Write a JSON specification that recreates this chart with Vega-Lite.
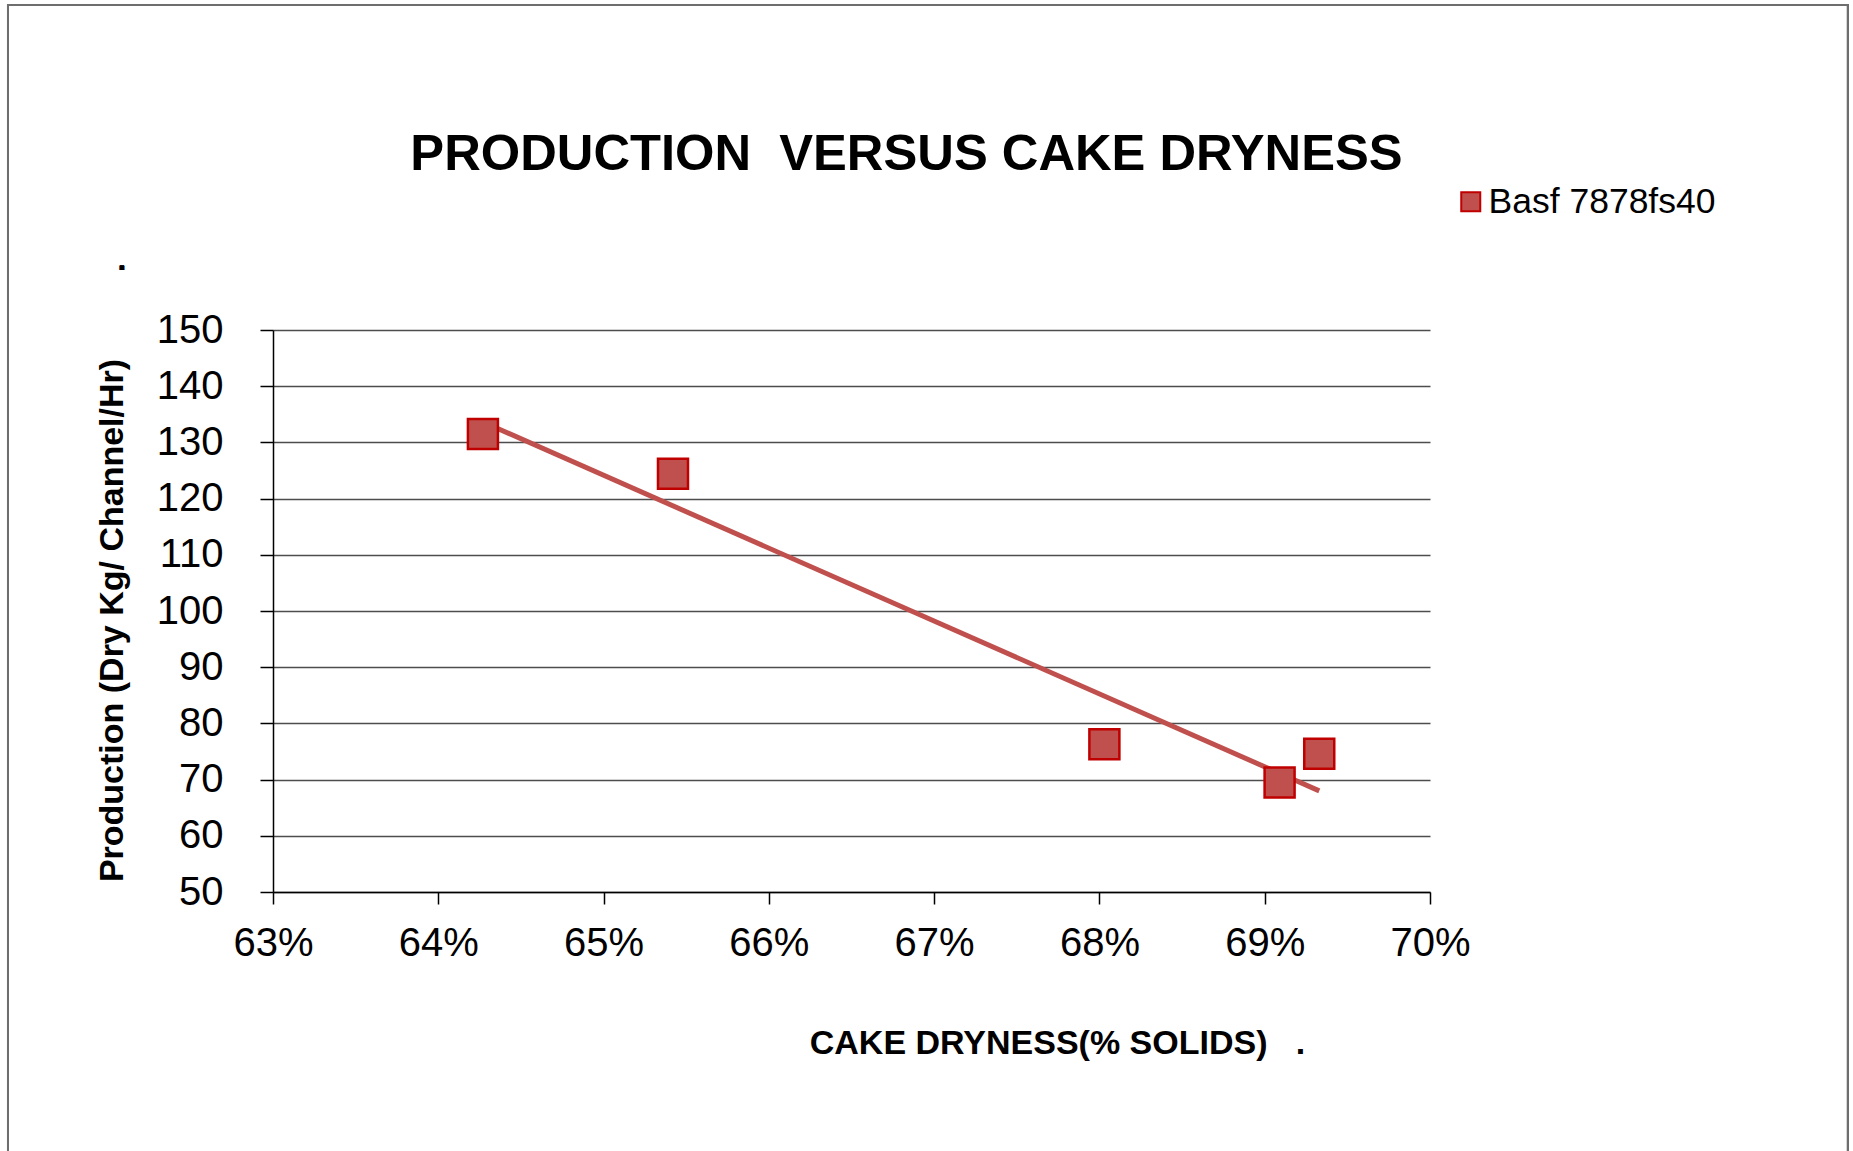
{
  "$schema": "https://vega.github.io/schema/vega-lite/v6.json",
  "autosize": {"type": "none"},
  "width": 1157,
  "height": 562,
  "padding": {"left": 273, "top": 330, "right": 423, "bottom": 259},
  "background": "white",
  "config": {"font": "Liberation Sans", "view": {"stroke": null}},
  "title": {
    "text": "PRODUCTION\u00a0\u00a0VERSUS CAKE DRYNESS",
    "fontSize": 50.7,
    "fontWeight": "bold",
    "color": "black",
    "anchor": "middle",
    "frame": "group",
    "baseline": "alphabetic",
    "dx": 55,
    "dy": 217,
    "offset": 0
  },
  "data": {
    "values": [
      {"dryness": 0.6427, "production": 131.5, "series": "Basf 7878fs40"},
      {"dryness": 0.6542, "production": 124.4, "series": "Basf 7878fs40"},
      {"dryness": 0.6803, "production": 76.3, "series": "Basf 7878fs40"},
      {"dryness": 0.6909, "production": 69.5, "series": "Basf 7878fs40"},
      {"dryness": 0.6933, "production": 74.6, "series": "Basf 7878fs40"}
    ]
  },
  "encoding": {
    "x": {
      "field": "dryness",
      "type": "quantitative",
      "scale": {"domain": [0.63, 0.70], "nice": false, "zero": false},
      "axis": {
        "values": [0.63, 0.64, 0.65, 0.66, 0.67, 0.68, 0.69, 0.70],
        "format": ".0%",
        "grid": false,
        "domainColor": "black",
        "domainWidth": 1.5,
        "tickColor": "black",
        "tickWidth": 1.5,
        "tickSize": 12,
        "labelPadding": 19,
        "labelFontSize": 40,
        "labelColor": "black",
        "labelFlush": false,
        "title": "CAKE DRYNESS(% SOLIDS)\u00a0\u00a0\u00a0.",
        "titleFontSize": 34,
        "titleFontWeight": "bold",
        "titleColor": "black",
        "titleX": 784,
        "titleY": 161,
        "titleAlign": "center",
        "titleBaseline": "alphabetic"
      }
    },
    "y": {
      "field": "production",
      "type": "quantitative",
      "scale": {"domain": [50, 150], "nice": false, "zero": false},
      "axis": {
        "values": [50, 60, 70, 80, 90, 100, 110, 120, 130, 140, 150],
        "grid": true,
        "gridColor": "#4d4d4d",
        "gridWidth": 1.5,
        "domainColor": "black",
        "domainWidth": 1.5,
        "tickColor": "black",
        "tickWidth": 1.5,
        "tickSize": 13,
        "labelPadding": 37,
        "labelFontSize": 40,
        "labelColor": "black",
        "labelFlush": false,
        "title": "Production (Dry Kg/ Channel/Hr)",
        "titleFontSize": 34,
        "titleFontWeight": "bold",
        "titleColor": "black",
        "titlePadding": 27,
        "titleY": 290
      }
    }
  },
  "layer": [
    {
      "mark": {"type": "rect", "filled": false, "stroke": "#6e6e6e", "strokeWidth": 2, "clip": false},
      "encoding": {
        "x": {"datum": 0.613967},
        "x2": {"datum": 0.725286},
        "y": {"datum": 207.83},
        "y2": {"datum": 2.31}
      }
    },
    {
      "mark": {"type": "text", "text": ".", "fontSize": 30, "fontWeight": "bold", "color": "black", "align": "center", "baseline": "alphabetic", "clip": false},
      "encoding": {
        "x": {"datum": 0.62086},
        "y": {"datum": 160.7}
      }
    },
    {
      "transform": [{"regression": "production", "on": "dryness"}],
      "mark": {"type": "line", "color": "#C0504D", "strokeWidth": 5}
    },
    {
      "mark": {"type": "point", "shape": "square", "filled": true, "size": 900, "stroke": "#C00000", "strokeWidth": 2.5, "opacity": 1},
      "encoding": {
        "color": {
          "field": "series",
          "type": "nominal",
          "scale": {"range": ["#C0504D"]},
          "legend": {
            "title": null,
            "orient": "none",
            "legendX": 1180,
            "legendY": -146,
            "padding": 0,
            "labelFontSize": 35.5,
            "labelColor": "black",
            "labelOffset": 0,
            "labelLimit": 500,
            "symbolType": "square",
            "symbolSize": 361,
            "symbolStrokeColor": "#C00000",
            "symbolStrokeWidth": 2,
            "symbolOpacity": 1
          }
        }
      }
    }
  ]
}
